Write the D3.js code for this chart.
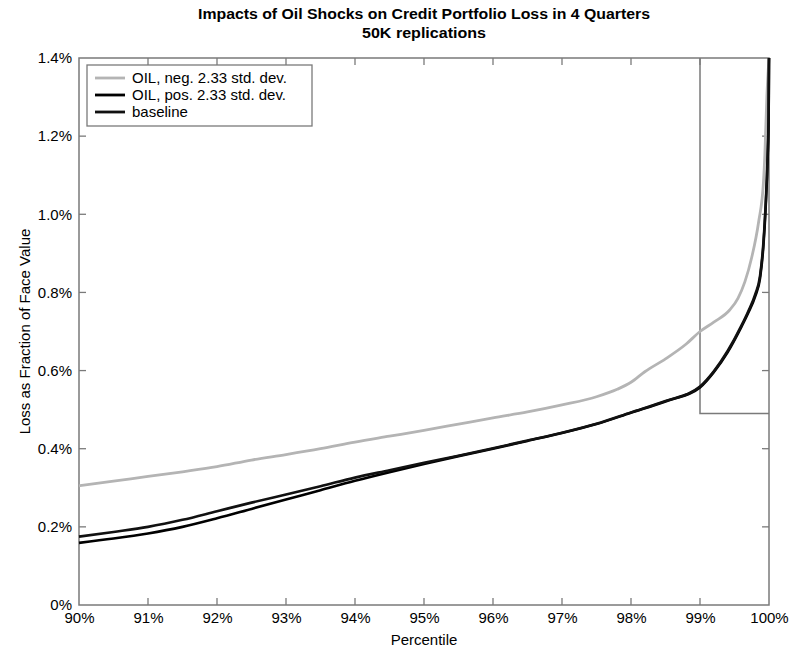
<!DOCTYPE html>
<html>
<head>
<meta charset="utf-8">
<script src="https://cdn.jsdelivr.net/npm/d3@7"></script>
<style>
  html, body { margin: 0; padding: 0; background: #fff; }
  text { font-family: "Liberation Sans", Arial, sans-serif; }
</style>
</head>
<body>
<svg id="chart" width="795" height="659"></svg>
<script>
// ---- data (percentile %, loss %) ----
const negPct = [90.0, 90.5, 91.0, 91.5, 92.0, 92.5, 93.0, 93.5, 94.0, 94.5, 95.0, 95.5, 96.0, 96.5, 97.0, 97.5, 97.8, 98.0, 98.2, 98.5, 98.8, 99.0, 99.2, 99.43, 99.55, 99.65, 99.75, 99.85, 99.92, 99.94, 99.97, 100.0];
const negLoss = [0.305, 0.317, 0.329, 0.341, 0.354, 0.371, 0.385, 0.400, 0.417, 0.432, 0.447, 0.463, 0.479, 0.494, 0.512, 0.533, 0.552, 0.570, 0.597, 0.630, 0.668, 0.700, 0.724, 0.755, 0.785, 0.827, 0.890, 0.981, 1.083, 1.152, 1.305, 1.400];

const blkPct = [90.0, 90.5, 91.0, 91.5, 92.0, 92.5, 93.0, 93.5, 94.0, 94.5, 95.0, 95.5, 96.0, 96.5, 97.0, 97.5, 98.0, 98.5, 99.0, 99.2, 99.4, 99.6, 99.7, 99.8, 99.87, 99.92, 99.95, 99.98, 99.995, 100.0];
const baseLoss = [0.175, 0.187, 0.200, 0.218, 0.240, 0.262, 0.283, 0.304, 0.326, 0.345, 0.364, 0.382, 0.401, 0.421, 0.441, 0.464, 0.493, 0.522, 0.559, 0.598, 0.650, 0.715, 0.752, 0.795, 0.842, 0.930, 1.020, 1.150, 1.260, 1.400];
const posLoss  = [0.159, 0.170, 0.183, 0.200, 0.222, 0.246, 0.270, 0.294, 0.318, 0.340, 0.361, 0.381, 0.400, 0.420, 0.440, 0.463, 0.492, 0.521, 0.557, 0.596, 0.647, 0.712, 0.748, 0.790, 0.836, 0.922, 1.012, 1.140, 1.255, 1.400];

const xTicks = [90, 91, 92, 93, 94, 95, 96, 97, 98, 99, 100];
const yTicks = [0, 0.2, 0.4, 0.6, 0.8, 1.0, 1.2, 1.4];
const boxPct = [99, 100];
const boxLoss = 0.49;

const seriesNames = ["OIL, neg. 2.33 std. dev.", "OIL, pos. 2.33 std. dev.", "baseline"];
const seriesColors = ["#b4b4b4", "#000000", "#111111"];

// ---- layout ----
const svg = d3.select("#chart");
const L = 79, R = 769, T = 58, B = 605;
const x = d3.scaleLinear().domain([90, 100]).range([L, R]);
const y = d3.scaleLinear().domain([0, 1.4]).range([B, T]);
const axisColor = "#7a7a7a";
const tickLen = 7;

// frame
svg.append("rect").attr("x", L).attr("y", T).attr("width", R - L).attr("height", B - T)
  .attr("fill", "none").attr("stroke", axisColor).attr("stroke-width", 1.5);

// bottom axis
const gx = svg.append("g").attr("transform", `translate(0,${B})`)
  .call(d3.axisBottom(x).tickValues(xTicks).tickSize(0).tickPadding(7).tickFormat(d => d + "%"));
gx.select(".domain").remove();
gx.selectAll("text").attr("font-size", 15).attr("fill", "#000").attr("font-family", "Liberation Sans, Arial, sans-serif");
// left axis
const gy = svg.append("g").attr("transform", `translate(${L},0)`)
  .call(d3.axisLeft(y).tickValues(yTicks).tickSize(0).tickPadding(7).tickFormat(d => d === 0 ? "0%" : d.toFixed(1) + "%"));
gy.select(".domain").remove();
gy.selectAll("text").attr("font-size", 15).attr("fill", "#000").attr("font-family", "Liberation Sans, Arial, sans-serif");

// inward ticks on all four sides
const tk = svg.append("g").attr("stroke", axisColor).attr("stroke-width", 1.3);
xTicks.slice(1, -1).forEach(v => {
  tk.append("line").attr("x1", x(v)).attr("x2", x(v)).attr("y1", B).attr("y2", B - tickLen);
  tk.append("line").attr("x1", x(v)).attr("x2", x(v)).attr("y1", T).attr("y2", T + tickLen);
});
yTicks.slice(1, -1).forEach(v => {
  tk.append("line").attr("x1", L).attr("x2", L + tickLen).attr("y1", y(v)).attr("y2", y(v));
  tk.append("line").attr("x1", R).attr("x2", R - tickLen).attr("y1", y(v)).attr("y2", y(v));
});

// box around the tail region
svg.append("path")
  .attr("d", d3.line()([[x(boxPct[0]), y(1.4)], [x(boxPct[0]), y(boxLoss)], [x(boxPct[1]), y(boxLoss)]]))
  .attr("fill", "none").attr("stroke", axisColor).attr("stroke-width", 1.5);

// lines
const line = d3.line().x(d => x(d[0])).y(d => y(d[1])).curve(d3.curveMonotoneX);
svg.append("path").datum(d3.zip(negPct, negLoss)).attr("d", line)
  .attr("fill", "none").attr("stroke", seriesColors[0]).attr("stroke-width", 2.8);
svg.append("path").datum(d3.zip(blkPct, posLoss)).attr("d", line)
  .attr("fill", "none").attr("stroke", seriesColors[1]).attr("stroke-width", 2.6);
svg.append("path").datum(d3.zip(blkPct, baseLoss)).attr("d", line)
  .attr("fill", "none").attr("stroke", seriesColors[2]).attr("stroke-width", 2.6);

// legend
const lg = svg.append("g");
lg.append("rect").attr("x", 87).attr("y", 65).attr("width", 225).attr("height", 61)
  .attr("fill", "#fff").attr("stroke", axisColor).attr("stroke-width", 1.3);
seriesNames.forEach((n, i) => {
  const yy = 78 + i * 17;
  lg.append("line").attr("x1", 95).attr("x2", 125).attr("y1", yy).attr("y2", yy)
    .attr("stroke", seriesColors[i]).attr("stroke-width", 2.8);
  lg.append("text").attr("x", 132).attr("y", yy + 5).attr("font-size", 15).attr("fill", "#000").text(n);
});

// titles
const cx = (L + R) / 2;
svg.append("text").attr("x", cx).attr("y", 19).attr("text-anchor", "middle")
  .attr("font-size", 14).attr("font-weight", "bold").attr("textLength", 452).attr("lengthAdjust", "spacingAndGlyphs")
  .text("Impacts of Oil Shocks on Credit Portfolio Loss in 4 Quarters");
svg.append("text").attr("x", cx).attr("y", 38).attr("text-anchor", "middle")
  .attr("font-size", 14).attr("font-weight", "bold").attr("textLength", 124).attr("lengthAdjust", "spacingAndGlyphs")
  .text("50K replications");
svg.append("text").attr("x", cx).attr("y", 645).attr("text-anchor", "middle")
  .attr("font-size", 15).text("Percentile");
svg.append("text").attr("transform", `translate(30,${(T + B) / 2}) rotate(-90)`).attr("text-anchor", "middle")
  .attr("font-size", 15).text("Loss as Fraction of Face Value");
</script>
</body>
</html>
